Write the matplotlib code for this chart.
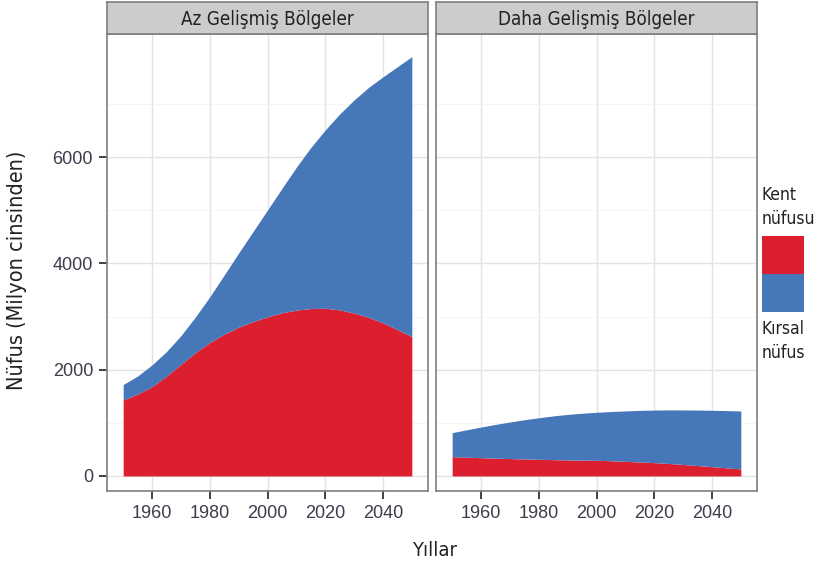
import matplotlib.pyplot as plt
import numpy as np
from matplotlib.patches import Rectangle

# veriler (grafikten okunan tahmini degerler, milyon kisi)
yillar = [1950, 1955, 1960, 1965, 1970, 1975, 1980, 1985, 1990, 1995, 2000,
          2005, 2010, 2015, 2020, 2025, 2030, 2035, 2040, 2045, 2050]
az_kirmizi = [1430, 1540, 1680, 1880, 2100, 2320, 2510, 2670, 2800, 2905, 2995,
              3070, 3120, 3150, 3155, 3125, 3065, 2985, 2880, 2755, 2620]
az_toplam = [1720, 1880, 2090, 2340, 2640, 2990, 3370, 3780, 4195, 4600, 5005,
             5410, 5810, 6180, 6510, 6810, 7075, 7310, 7510, 7700, 7890]
daha_kirmizi = [363, 353, 344, 335, 327, 320, 313, 307, 301, 298, 295,
                286, 275, 263, 251, 235, 216, 196, 175, 153, 132]
daha_toplam = [815, 868, 920, 970, 1015, 1058, 1095, 1130, 1158, 1180, 1198,
               1212, 1224, 1234, 1240, 1243, 1242, 1240, 1235, 1230, 1223]

paneller = ["Az Gelişmiş Bölgeler", "Daha Gelişmiş Bölgeler"]
xticks = [1960, 1980, 2000, 2020, 2040]
yticks = [0, 2000, 4000, 6000]

kirmizi = '#db1f2e'
mavi = '#4677b8'
yazi = dict(family='DejaVu Sans', stretch='condensed')

fig = plt.figure(figsize=(8.29, 5.68), dpi=100)

veri = [(az_kirmizi, az_toplam), (daha_kirmizi, daha_toplam)]
soller = [107/829, 436/829]
for i in range(2):
    ax = fig.add_axes([soller[i], 77/568, 321/829, 457/568])
    alt, toplam = veri[i]
    ax.fill_between(yillar, 0, alt, color=kirmizi, lw=0)
    ax.fill_between(yillar, alt, toplam, color=mavi, lw=0)
    ax.set_xlim(1944.4, 2055.6)
    ax.set_ylim(-283, 8316)
    ax.set_xticks(xticks)
    ax.set_yticks(yticks)
    ax.set_yticks([1000, 3000, 5000, 7000], minor=True)
    ax.grid(True, which='major', color='#e3e3e3', lw=1.0)
    ax.grid(True, which='minor', axis='y', color='#f3f3f3', lw=0.6)
    ax.set_axisbelow(True)
    for s in ax.spines.values():
        s.set_color('#7f7f7f')
        s.set_linewidth(1.2)
    ax.tick_params(axis='both', length=6, width=1.3, color='#333333', pad=4,
                   labelsize=13, labelcolor='#3c3c4c')
    ax.tick_params(which='minor', length=0)
    for t in ax.get_xticklabels() + ax.get_yticklabels():
        t.set_family('Liberation Sans')
    if i == 1:
        ax.tick_params(axis='y', left=False, labelleft=False)

    # baslik seridi
    sx = fig.add_axes([soller[i], 534/568, 321/829, 32/568])
    sx.set_facecolor('#cccccc')
    sx.set_xticks([])
    sx.set_yticks([])
    for s in sx.spines.values():
        s.set_color('#7f7f7f')
        s.set_linewidth(1.2)
    sx.text(0.5, 0.45, paneller[i], ha='center', va='center', fontsize=13.5,
            color='#222222', **yazi)

fig.text(435/829, 1 - 551/568, "Yıllar", ha='center', va='center', fontsize=14.5,
         color='#222222', **yazi)
fig.text(17/829, 1 - 270/568, "Nüfus (Milyon cinsinden)", ha='center', va='center',
         rotation=90, fontsize=15.5, color='#222222', **yazi)

# lejant
lax = fig.add_axes([762/829, 1 - 312/568, 42/829, 76/568])
lax.add_patch(Rectangle((0, 0.5), 1, 0.5, color=kirmizi, lw=0))
lax.add_patch(Rectangle((0, 0), 1, 0.5, color=mavi, lw=0))
lax.set_xlim(0, 1)
lax.set_ylim(0, 1)
lax.axis('off')
fig.text(762/829, 1 - 207/568, "Kent\nnüfusu", ha='left', va='center', fontsize=12.5,
         color='#222222', linespacing=1.45, **yazi)
fig.text(762/829, 1 - 341/568, "Kırsal\nnüfus", ha='left', va='center', fontsize=12.5,
         color='#222222', linespacing=1.45, **yazi)

plt.savefig('out.png', dpi=100)
